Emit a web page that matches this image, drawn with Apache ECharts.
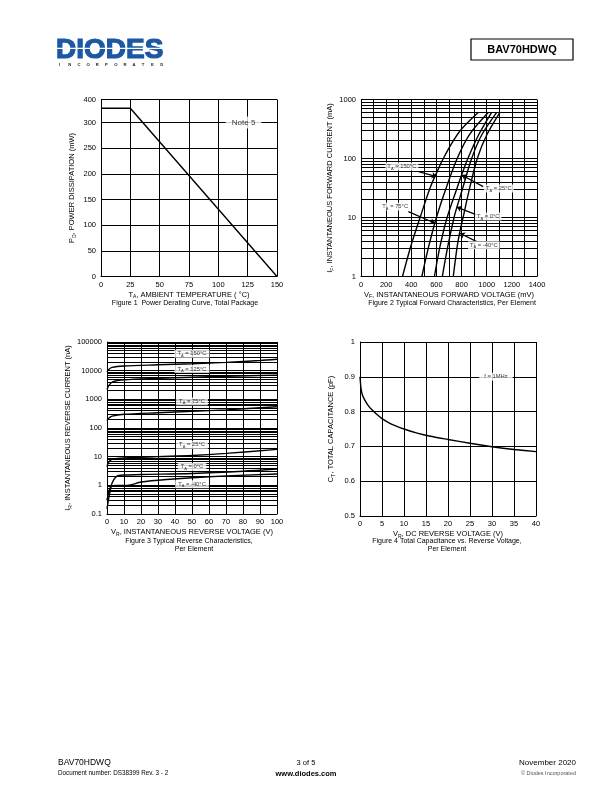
<!DOCTYPE html>
<html>
<head>
<meta charset="utf-8">
<script src="https://cdn.jsdelivr.net/npm/echarts@6/dist/echarts.min.js"></script>
<style>
html, body { margin: 0; padding: 0; background: #fff; }
#page { width: 612px; height: 792px; }
</style>
</head>
<body>
<div id="page"></div>
<script>
// Figure 1: power derating (degC, mW)
const derateTemp = [0, 25, 150];
const deratePower = [328, 328, 0];

// Figure 2: forward characteristics, [mV, mA]
const fwd150 = [[330, 1], [395, 3.2], [470, 10], [550, 32], [610, 63], [655, 100], [735, 200], [800, 316], [932, 600]];
const fwd75 = [[484, 1], [538, 3.2], [600, 10], [678, 32], [765, 100], [860, 250], [1012, 600]];
const fwd25 = [[584, 1], [628, 3.2], [685, 10], [765, 32], [801, 53], [850, 100], [935, 250], [1038, 600]];
const fwd0 = [[647, 1], [690, 3.2], [740, 10], [761, 14.5], [810, 32], [880, 100], [960, 250], [1078, 600]];
const fwdM40 = [[734, 1], [765, 3.2], [787, 5.8], [812, 10], [865, 32], [925, 100], [1000, 250], [1104, 600]];
const fwdLabels = ['150', '25', '75', '0', '-40'];
const fwdLabelAt = [[325, 73], [1096, 31], [272, 15.3], [1012, 10.4], [977, 3.4]];
const fwdArrowFrom = [[457, 60], [972, 33.4], [377, 12.6], [920, 11.1], [920, 3.9]];
const fwdArrowTo = [[602, 49.3], [801, 52.7], [589, 8.0], [761, 15], [787, 5.4]];

// Figure 3: reverse characteristics, [V, nA]
const rev150 = [[0, 9000], [1, 11000], [3, 13000], [10, 14500], [30, 16000], [50, 17500], [70, 19500], [90, 22500], [100, 25000]];
const rev125 = [[0, 2200], [1, 3000], [3, 4000], [10, 4800], [30, 5400], [50, 5900], [70, 6400], [100, 7000]];
const rev75 = [[0, 180], [1, 220], [3, 260], [10, 300], [30, 340], [50, 380], [70, 430], [100, 550]];
const rev25 = [[0, 4.5], [1, 6.5], [3, 8], [10, 9], [30, 10], [50, 11], [70, 13], [100, 18]];
const rev0 = [[0, 0.15], [1, 0.35], [2, 0.7], [3, 1.2], [5, 1.9], [7, 2.2], [10, 2.3], [20, 2.4], [50, 2.6], [80, 3.1], [100, 3.7]];
const revM40 = [[0, 0.3], [1, 0.6], [2, 0.85], [3, 0.95], [5, 1.0], [12, 1.0], [20, 1.3], [35, 1.6], [60, 2.0], [100, 2.5]];
const revLabels = ['150', '125', '75', '25', '0', '-40'];
const revLabelAt = [[50, 39000], [50, 11500], [50, 850], [50, 26], [50, 4.4], [50, 1.09]];

// Figure 4: capacitance, [V, pF]
const capCurve = [[0, 0.9], [0.2, 0.87], [0.5, 0.85], [1, 0.835], [2, 0.815], [3, 0.802], [4, 0.79], [5, 0.78],
  [7, 0.765], [10, 0.75], [13, 0.738], [16, 0.729], [20, 0.72], [25, 0.709], [30, 0.699], [35, 0.691], [40, 0.685]];

// log grid minor lines
const fwdMinor = [2, 3, 4, 5, 6, 7, 8, 9, 20, 30, 40, 50, 60, 70, 80, 90, 200, 300, 400, 500, 600, 700, 800, 900];
const revMinor = [0.2, 0.3, 0.4, 0.5, 0.6, 0.7, 0.8, 0.9, 2, 3, 4, 5, 6, 7, 8, 9, 20, 30, 40, 50, 60, 70, 80, 90,
  200, 300, 400, 500, 600, 700, 800, 900, 2000, 3000, 4000, 5000, 6000, 7000, 8000, 9000,
  20000, 30000, 40000, 50000, 60000, 70000, 80000, 90000];

const FONT = '"Liberation Sans", Arial, Helvetica, sans-serif';

const chart = echarts.init(document.getElementById('page'));

const nameRich = {
  n: { fontSize: 7.5, fontFamily: FONT, color: '#000', lineHeight: 10 },
  s: { fontSize: 5, fontFamily: FONT, color: '#000', lineHeight: 6, verticalAlign: 'bottom' }
};
const noteRich = {
  n: { fontSize: 8, fontFamily: FONT, color: '#000', lineHeight: 10 }
};
const tagRich = {
  n: { fontSize: 5.8, fontFamily: FONT, color: '#000', lineHeight: 8 },
  s: { fontSize: 4, fontFamily: FONT, color: '#000', lineHeight: 5, verticalAlign: 'bottom' }
};

const gridLine = { show: true, lineStyle: { color: '#000', width: 1 } };
const tickLabel = { color: '#000', fontSize: 7.5, fontFamily: FONT, margin: 4 };

function xAxis(gi, min, max, interval, name, fmt) {
  return {
    gridIndex: gi, type: 'value', min, max, interval,
    name, nameLocation: 'middle', nameGap: 13,
    nameTextStyle: { rich: nameRich },
    axisLine: { show: true, lineStyle: { color: '#000', width: 1 } },
    axisTick: { show: false },
    axisLabel: Object.assign({}, tickLabel, fmt ? { formatter: fmt } : {}),
    splitLine: gridLine
  };
}
function yAxis(gi, opts, name, gap) {
  return Object.assign({
    gridIndex: gi, type: 'value',
    name, nameLocation: 'middle', nameGap: gap,
    nameTextStyle: { rich: nameRich },
    axisLine: { show: true, lineStyle: { color: '#000', width: 1 } },
    axisTick: { show: false },
    axisLabel: Object.assign({}, tickLabel, { margin: 5 }),
    splitLine: gridLine
  }, opts);
}

function curve(xi, data, smooth) {
  return {
    type: 'line', xAxisIndex: xi, yAxisIndex: xi, data, symbol: 'none', z: 3,
    smooth: smooth || false,
    lineStyle: { color: '#000', width: 1.4 }
  };
}

function minorLines(xi, anchor, vals) {
  return {
    type: 'line', xAxisIndex: xi, yAxisIndex: xi, data: [anchor], symbol: 'none', z: 1,
    lineStyle: { width: 0 }, silent: true,
    markLine: {
      silent: true, symbol: ['none', 'none'], label: { show: false },
      lineStyle: { color: '#000', width: 1, type: 'solid' },
      data: vals.map(v => ({ yAxis: v }))
    }
  };
}

function tags(xi, at, names, rich, fmt, pad) {
  return {
    type: 'scatter', xAxisIndex: xi, yAxisIndex: xi, z: 6, symbolSize: 0.1,
    itemStyle: { color: '#fff' }, silent: true,
    data: at.map((p, i) => ({ value: p, name: names[i] })),
    label: {
      show: true, position: 'inside', formatter: fmt,
      color: '#000', textBorderWidth: 0,
      backgroundColor: '#fff', padding: pad, rich
    }
  };
}

const tempTag = p => '{n|T}{s|A}{n| = ' + p.name + '°C}';

const arrowSeries = {
  type: 'line', xAxisIndex: 1, yAxisIndex: 1, data: [[1400, 1]], symbol: 'none', z: 5,
  lineStyle: { width: 0 }, silent: true,
  markLine: {
    silent: true, symbol: ['none', 'arrow'], symbolSize: 5, label: { show: false },
    lineStyle: { color: '#000', width: 1.2, type: 'solid' },
    data: fwdArrowFrom.map((f, i) => [{ coord: f }, { coord: fwdArrowTo[i] }])
  }
};

function txt(x, y, text, size, opts) {
  return {
    type: 'text', x, y, silent: true,
    style: Object.assign({
      text, fill: '#000', font: size + 'px ' + FONT,
      textAlign: 'left', textVerticalAlign: 'middle'
    }, opts || {})
  };
}

const logoLetters = 'INCORPORATED'.split('').map((c, i) =>
  txt(59 + i * 9.2, 64.5, c, 4.2, { fill: '#222', font: 'bold 4.2px ' + FONT }));

chart.setOption({
  animation: false,
  grid: [
    { left: 101, top: 99.5, width: 176, height: 177 },
    { left: 361, top: 99.5, width: 176, height: 177 },
    { left: 107, top: 342, width: 170, height: 172 },
    { left: 360, top: 342, width: 176, height: 174 }
  ],
  xAxis: [
    xAxis(0, 0, 150, 25, '{n|T}{s|A}{n|, AMBIENT TEMPERATURE ( °C)}'),
    xAxis(1, 0, 1400, 100, '{n|V}{s|F}{n|, INSTANTANEOUS FORWARD VOLTAGE (mV)}', v => (v % 200 === 0 ? String(v) : '')),
    xAxis(2, 0, 100, 10, '{n|V}{s|R}{n|, INSTANTANEOUS REVERSE VOLTAGE (V)}'),
    xAxis(3, 0, 40, 5, '{n|V}{s|R}{n|, DC REVERSE VOLTAGE (V)}')
  ],
  yAxis: [
    yAxis(0, { min: 0, max: 345, interval: 50,
      axisLabel: Object.assign({}, tickLabel, { margin: 5, formatter: v => (v > 300 ? '400' : String(v)) }) },
      '{n|P}{s|D}{n|, POWER DISSIPATION (mW)}', 24),
    yAxis(1, { type: 'log', logBase: 10, min: 1, max: 1000,
      axisLabel: Object.assign({}, tickLabel, { margin: 5, formatter: v => String(+v.toPrecision(6)) }) },
      '{n|I}{s|F}{n|, INSTANTANEOUS FORWARD CURRENT (mA)}', 23),
    yAxis(2, { type: 'log', logBase: 10, min: 0.1, max: 100000,
      axisLabel: Object.assign({}, tickLabel, { margin: 5, formatter: v => String(+v.toPrecision(6)) }) },
      '{n|I}{s|R}{n|, INSTANTANEOUS REVERSE CURRENT (nA)}', 31),
    yAxis(3, { min: 0.5, max: 1, interval: 0.1,
      axisLabel: Object.assign({}, tickLabel, { margin: 5, formatter: v => String(+v.toFixed(1)) }) },
      '{n|C}{s|T}{n|, TOTAL CAPACITANCE (pF)}', 24)
  ],
  series: [
    {
      type: 'line', xAxisIndex: 0, yAxisIndex: 0, symbol: 'none', z: 3,
      data: derateTemp.map((t, i) => [t, deratePower[i]]),
      lineStyle: { color: '#000', width: 1.4 }
    },
    tags(0, [[121.5, 300]], ['Note 5'], noteRich, p => '{n|' + p.name + '}', [1, 6]),

    minorLines(1, [0, 1], fwdMinor),
    curve(1, fwd150, 0.3),
    curve(1, fwd75, 0.3),
    curve(1, fwd25, 0.3),
    curve(1, fwd0, 0.3),
    curve(1, fwdM40, 0.3),
    arrowSeries,
    tags(1, fwdLabelAt, fwdLabels, tagRich, tempTag, [0, 2]),

    minorLines(2, [0, 0.1], revMinor),
    curve(2, rev150, 0.3),
    curve(2, rev125, 0.3),
    curve(2, rev75, 0.3),
    curve(2, rev25, 0.3),
    curve(2, rev0, 0.3),
    curve(2, revM40, 0.3),
    tags(2, revLabelAt, revLabels, tagRich, tempTag, [0, 3]),

    curve(3, capCurve, 0.2),
    tags(3, [[30.9, 0.9]], ['f = 1MHz'], tagRich, p => '{n|' + p.name + '}', [0, 5])
  ],
  graphic: [
    // logo
    txt(56, 50, 'DIODES', 28, { fill: '#1b57a3', stroke: '#1b57a3', lineWidth: 1.2, font: '900 28px ' + FONT }),
    { type: 'rect', silent: true, shape: { x: 55, y: 47.8, width: 113, height: 1.3 }, style: { fill: '#fff' } },
    ...logoLetters,
    // part number box
    { type: 'rect', silent: true, shape: { x: 471, y: 39, width: 102, height: 21 },
      style: { fill: 'none', stroke: '#000', lineWidth: 1.2 } },
    txt(522, 50, 'BAV70HDWQ', 11, { textAlign: 'center', font: 'bold 11px ' + FONT }),
    // captions
    txt(185, 303.5, 'Figure 1  Power Derating Curve, Total Package', 7, { textAlign: 'center' }),
    txt(452, 303.5, 'Figure 2 Typical Forward Characteristics, Per Element', 7, { textAlign: 'center' }),
    txt(189, 541, 'Figure 3 Typical Reverse Characteristics,', 7, { textAlign: 'center' }),
    txt(194, 549.5, 'Per Element', 7, { textAlign: 'center' }),
    txt(447, 541, 'Figure 4 Total Capacitance vs. Reverse Voltage,', 7, { textAlign: 'center' }),
    txt(447, 549.5, 'Per Element', 7, { textAlign: 'center' }),
    // footer
    txt(58, 762.5, 'BAV70HDWQ', 8.5),
    txt(58, 773.5, 'Document number: DS38399 Rev. 3 - 2', 6.3),
    txt(306, 762.5, '3 of 5', 7.5, { textAlign: 'center' }),
    txt(306, 773.5, 'www.diodes.com', 7.5, { textAlign: 'center', font: 'bold 7.5px ' + FONT }),
    txt(576, 762.5, 'November 2020', 8, { textAlign: 'right' }),
    txt(576, 773.5, '© Diodes Incorporated', 5.5, { textAlign: 'right', fill: '#555' })
  ]
});
</script>
</body>
</html>
